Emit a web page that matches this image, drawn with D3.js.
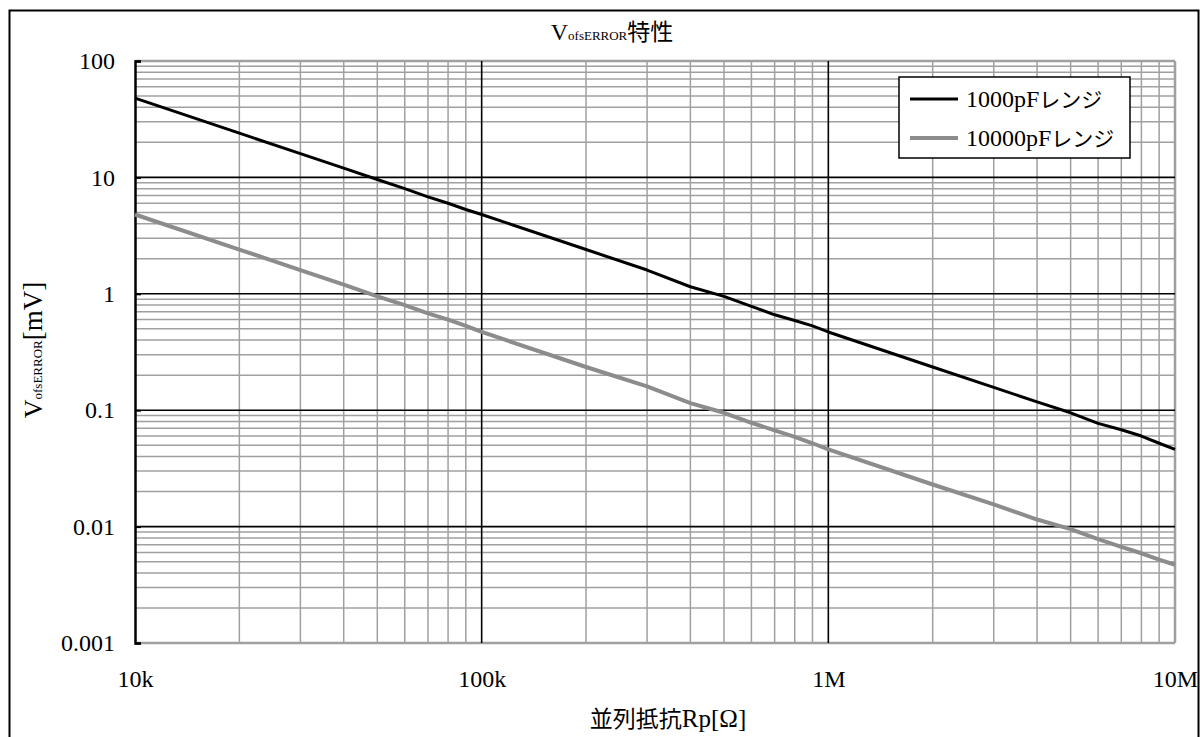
<!DOCTYPE html>
<html>
<head>
<meta charset="utf-8">
<script src="https://cdn.jsdelivr.net/npm/d3@7"></script>
<style>
  body { margin: 0; background: #fff; }
  svg text { font-family: "Liberation Serif", "Noto Sans CJK JP", serif; fill: #000; }
</style>
</head>
<body>
<svg id="chart" width="1200" height="737"></svg>
<script>
// resistance Rp [ohm]
const resistance = [10e3, 20e3, 30e3, 40e3, 50e3, 60e3, 70e3, 80e3, 90e3,
  100e3, 200e3, 300e3, 400e3, 500e3, 600e3, 700e3, 800e3, 900e3,
  1e6, 2e6, 3e6, 4e6, 5e6, 6e6, 7e6, 8e6, 9e6, 10e6];
// V_ofsERROR [mV]
const range1000 = [48, 24, 16, 12, 9.6, 8.0, 6.8, 6.0, 5.3,
  4.8, 2.4, 1.6, 1.15, 0.95, 0.78, 0.66, 0.59, 0.53,
  0.47, 0.235, 0.157, 0.118, 0.095, 0.077, 0.068, 0.06, 0.052, 0.046];
const range10000 = [4.8, 2.4, 1.6, 1.2, 0.95, 0.8, 0.68, 0.6, 0.53,
  0.47, 0.235, 0.16, 0.115, 0.095, 0.078, 0.067, 0.059, 0.052,
  0.046, 0.023, 0.0155, 0.0115, 0.0095, 0.0078, 0.0067, 0.0059, 0.0052, 0.0047];
const seriesNames = [['1000pF', 'レンジ'], ['10000pF', 'レンジ']];
const xTickLabels = ['10k', '100k', '1M', '10M'];
const yTickLabels = ['0.001', '0.01', '0.1', '1', '10', '100'];

const svg = d3.select('#chart');
const plot = {left: 135, right: 1175, top: 61, bottom: 643};

const x = d3.scaleLog().domain([1e4, 1e7]).range([plot.left, plot.right]);
const y = d3.scaleLog().domain([0.001, 100]).range([plot.bottom, plot.top]);

// outer frame
svg.append('rect')
  .attr('x', 9.5).attr('y', 10.5).attr('width', 1189).attr('height', 740)
  .attr('fill', 'none').attr('stroke', '#000').attr('stroke-width', 2);

const xDecades = [1e4, 1e5, 1e6, 1e7];
const yDecades = [0.001, 0.01, 0.1, 1, 10, 100];
const xMinor = [], yMinor = [];
xDecades.slice(0, -1).forEach(d => { for (let k = 2; k <= 9; k++) xMinor.push(d * k); });
yDecades.slice(0, -1).forEach(d => { for (let k = 2; k <= 9; k++) yMinor.push(d * k); });

const grid = svg.append('g');
grid.selectAll('.xminor').data(xMinor.concat([1e7])).join('line')
  .attr('x1', d => x(d)).attr('x2', d => x(d))
  .attr('y1', plot.top).attr('y2', plot.bottom)
  .attr('stroke', '#a0a0a0').attr('stroke-width', d => d === 1e7 ? 2.5 : 1.5);
grid.selectAll('.yminor').data(yMinor.concat([0.001, 100])).join('line')
  .attr('x1', plot.left).attr('x2', plot.right)
  .attr('y1', d => y(d)).attr('y2', d => y(d))
  .attr('stroke', '#a0a0a0').attr('stroke-width', d => (d === 0.001 || d === 100) ? 2.5 : 1.5);
grid.selectAll('.xmajor').data([1e5, 1e6]).join('line')
  .attr('x1', d => x(d)).attr('x2', d => x(d))
  .attr('y1', plot.top).attr('y2', plot.bottom)
  .attr('stroke', '#000').attr('stroke-width', 1.6);
grid.selectAll('.ymajor').data([0.01, 0.1, 1, 10]).join('line')
  .attr('x1', plot.left).attr('x2', plot.right)
  .attr('y1', d => y(d)).attr('y2', d => y(d))
  .attr('stroke', '#000').attr('stroke-width', 1.6);

// axes
const yAxis = d3.axisLeft(y).tickValues(yDecades).tickSize(-6)
  .tickFormat((d, i) => yTickLabels[i]).tickPadding(20);
svg.append('g').attr('transform', `translate(${plot.left},0)`).call(yAxis)
  .call(g => g.select('.domain').attr('stroke', '#000').attr('stroke-width', 2.5))
  .call(g => g.selectAll('.tick line').attr('stroke', '#000').attr('stroke-width', 2))
  .call(g => g.selectAll('.tick text').attr('font-size', 24)
    .attr('font-family', null));

const xAxis = d3.axisBottom(x).tickValues(xDecades).tickSize(0)
  .tickFormat((d, i) => xTickLabels[i]).tickPadding(27);
svg.append('g').attr('transform', `translate(0,${plot.bottom})`).call(xAxis)
  .call(g => g.select('.domain').remove())
  .call(g => g.selectAll('.tick text').attr('font-size', 24)
    .attr('font-family', null));

// series
const line = d3.line().x(d => x(d[0])).y(d => y(d[1]));
const series = [
  {name: seriesNames[0], values: range1000, color: '#000', width: 3},
  {name: seriesNames[1], values: range10000, color: '#8c8c8c', width: 4}
];
svg.append('g').selectAll('path').data(series).join('path')
  .attr('d', s => line(resistance.map((r, i) => [r, s.values[i]])))
  .attr('fill', 'none')
  .attr('stroke', s => s.color)
  .attr('stroke-width', s => s.width)
  .attr('stroke-linejoin', 'round');

// legend
const legend = svg.append('g').attr('transform', 'translate(899,77)');
legend.append('rect').attr('width', 231).attr('height', 81)
  .attr('fill', '#fff').attr('stroke', '#000').attr('stroke-width', 1.5);
const item = legend.selectAll('.item').data(series).join('g')
  .attr('transform', (d, i) => `translate(0,${22 + i * 39})`);
item.append('line').attr('x1', 11).attr('x2', 59)
  .attr('stroke', d => d.color).attr('stroke-width', d => d.width);
const itemText = item.append('text').attr('x', 67).attr('y', 8).attr('font-size', 24);
itemText.append('tspan').text(d => d.name[0]);
itemText.append('tspan').attr('font-size', 21).text(d => d.name[1]);

// title
const title = svg.append('text').attr('x', 612).attr('y', 40).attr('text-anchor', 'middle')
  .attr('font-size', 24);
title.append('tspan').text('V');
title.append('tspan').attr('font-size', 13).text('ofsERROR');
title.append('tspan').attr('font-size', 23).text('特性');

// axis titles
const xTitle = svg.append('text').attr('x', 668).attr('y', 727).attr('text-anchor', 'middle')
  .attr('font-size', 25);
xTitle.append('tspan').attr('font-size', 23).text('並列抵抗');
xTitle.append('tspan').text('Rp[Ω]');

const yTitle = svg.append('text')
  .attr('transform', 'translate(42,350) rotate(-90)')
  .attr('text-anchor', 'middle').attr('font-size', 26);
yTitle.append('tspan').text('V');
yTitle.append('tspan').attr('font-size', 13).text('ofsERROR');
yTitle.append('tspan').attr('font-size', 27).text('[mV]');
</script>
</body>
</html>
